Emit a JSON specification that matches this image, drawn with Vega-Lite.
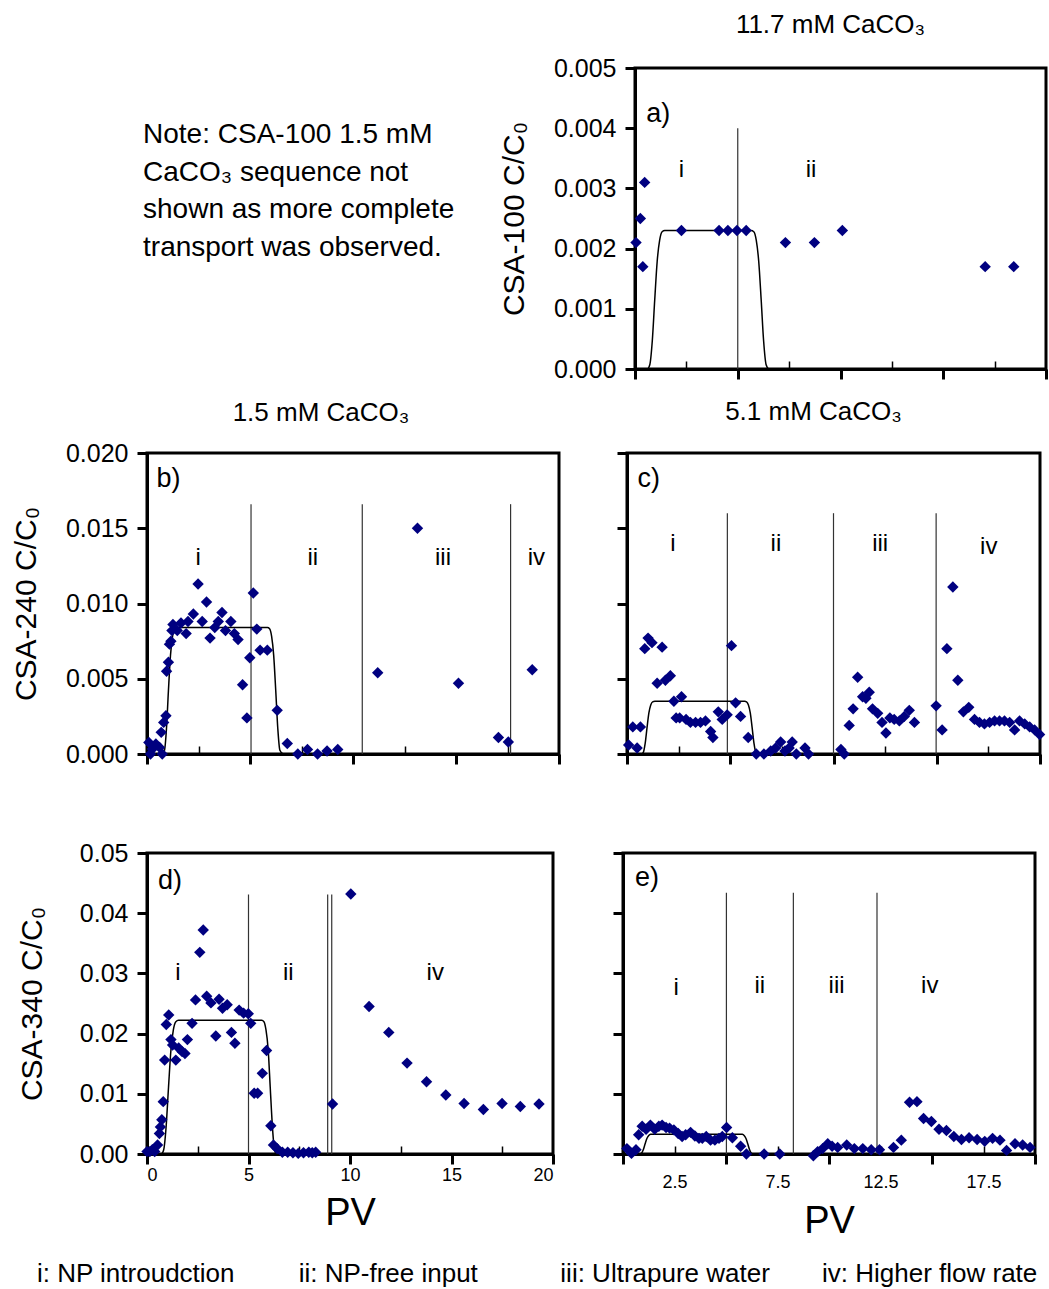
{
  "$schema": "https://vega.github.io/schema/vega-lite/v6.json",
  "padding": {"left": 9, "top": 10, "right": 0, "bottom": 0},
  "background": "white",
  "config": {
    "font": "Liberation Sans",
    "view": {"stroke": "black", "strokeWidth": 3},
    "axis": {"grid": false, "domainColor": "black", "domainWidth": 3, "tickColor": "black", "labelColor": "black", "titleColor": "black", "titleFontWeight": "normal", "labelFont": "Liberation Sans", "titleFont": "Liberation Sans"},
    "title": {"fontWeight": "normal", "color": "black", "font": "Liberation Sans"}
  },
  "datasets": {
    "pts": [
      {"panel":"a","pv":0.05,"c":0.0021},{"panel":"a","pv":0.26,"c":0.0025},{"panel":"a","pv":0.47,"c":0.0031},{"panel":"a","pv":0.38,"c":0.0017},{"panel":"a","pv":2.26,"c":0.0023},{"panel":"a","pv":4.09,"c":0.0023},{"panel":"a","pv":4.52,"c":0.0023},{"panel":"a","pv":4.96,"c":0.0023},{"panel":"a","pv":5.41,"c":0.0023},{"panel":"a","pv":7.32,"c":0.0021},{"panel":"a","pv":8.73,"c":0.0021},{"panel":"a","pv":10.09,"c":0.0023},{"panel":"a","pv":17.04,"c":0.0017},{"panel":"a","pv":18.43,"c":0.0017},
      {"panel":"b","pv":0.09,"c":0.00077},{"panel":"b","pv":0.17,"c":0.0},{"panel":"b","pv":0.26,"c":0.00033},{"panel":"b","pv":0.43,"c":0.00066},{"panel":"b","pv":0.61,"c":0.00044},{"panel":"b","pv":0.74,"c":0.0},{"panel":"b","pv":0.69,"c":0.00144},{"panel":"b","pv":0.81,"c":0.0021},{"panel":"b","pv":0.92,"c":0.00254},{"panel":"b","pv":0.95,"c":0.0055},{"panel":"b","pv":1.04,"c":0.0061},{"panel":"b","pv":1.09,"c":0.0073},{"panel":"b","pv":1.16,"c":0.0075},{"panel":"b","pv":1.21,"c":0.0082},{"panel":"b","pv":1.26,"c":0.0086},{"panel":"b","pv":1.47,"c":0.0082},{"panel":"b","pv":1.65,"c":0.0087},{"panel":"b","pv":1.9,"c":0.008},{"panel":"b","pv":1.99,"c":0.0088},{"panel":"b","pv":2.25,"c":0.0093},{"panel":"b","pv":2.48,"c":0.0113},{"panel":"b","pv":2.68,"c":0.0088},{"panel":"b","pv":2.89,"c":0.0101},{"panel":"b","pv":3.06,"c":0.0077},{"panel":"b","pv":3.29,"c":0.0084},{"panel":"b","pv":3.46,"c":0.0088},{"panel":"b","pv":3.64,"c":0.0094},{"panel":"b","pv":3.81,"c":0.0082},{"panel":"b","pv":4.07,"c":0.0088},{"panel":"b","pv":4.24,"c":0.008},{"panel":"b","pv":4.42,"c":0.0076},{"panel":"b","pv":4.64,"c":0.0046},{"panel":"b","pv":4.85,"c":0.0024},{"panel":"b","pv":4.99,"c":0.0064},{"panel":"b","pv":5.16,"c":0.0107},{"panel":"b","pv":5.33,"c":0.0083},{"panel":"b","pv":5.49,"c":0.0069},{"panel":"b","pv":5.84,"c":0.0069},{"panel":"b","pv":6.32,"c":0.0029},{"panel":"b","pv":6.81,"c":0.0007},{"panel":"b","pv":7.32,"c":0.0},{"panel":"b","pv":7.79,"c":0.0003},{"panel":"b","pv":8.28,"c":0.0},{"panel":"b","pv":8.74,"c":0.0002},{"panel":"b","pv":9.26,"c":0.0003},{"panel":"b","pv":11.2,"c":0.0054},{"panel":"b","pv":13.13,"c":0.015},{"panel":"b","pv":15.12,"c":0.0047},{"panel":"b","pv":17.06,"c":0.0011},{"panel":"b","pv":17.54,"c":0.0008},{"panel":"b","pv":18.7,"c":0.0056},
      {"panel":"c","pv":0.08,"c":0.0006},{"panel":"c","pv":0.28,"c":0.0018},{"panel":"c","pv":0.49,"c":0.0004},{"panel":"c","pv":0.65,"c":0.0018},{"panel":"c","pv":0.86,"c":0.007},{"panel":"c","pv":1.02,"c":0.0077},{"panel":"c","pv":1.21,"c":0.0074},{"panel":"c","pv":1.46,"c":0.0047},{"panel":"c","pv":1.7,"c":0.0071},{"panel":"c","pv":1.86,"c":0.0049},{"panel":"c","pv":2.1,"c":0.0052},{"panel":"c","pv":2.27,"c":0.0035},{"panel":"c","pv":2.64,"c":0.0038},{"panel":"c","pv":2.38,"c":0.0024},{"panel":"c","pv":2.55,"c":0.0024},{"panel":"c","pv":2.86,"c":0.0023},{"panel":"c","pv":3.07,"c":0.0021},{"panel":"c","pv":3.32,"c":0.0021},{"panel":"c","pv":3.56,"c":0.0021},{"panel":"c","pv":3.8,"c":0.0022},{"panel":"c","pv":4.05,"c":0.0015},{"panel":"c","pv":4.16,"c":0.0011},{"panel":"c","pv":4.42,"c":0.0028},{"panel":"c","pv":4.61,"c":0.0023},{"panel":"c","pv":4.85,"c":0.0026},{"panel":"c","pv":5.06,"c":0.0072},{"panel":"c","pv":5.26,"c":0.0034},{"panel":"c","pv":5.5,"c":0.0025},{"panel":"c","pv":5.87,"c":0.0011},{"panel":"c","pv":6.26,"c":0.0},{"panel":"c","pv":6.63,"c":0.0},{"panel":"c","pv":6.96,"c":0.0002},{"panel":"c","pv":7.2,"c":0.0004},{"panel":"c","pv":7.44,"c":0.0008},{"panel":"c","pv":7.65,"c":0.0002},{"panel":"c","pv":7.85,"c":0.0004},{"panel":"c","pv":8.0,"c":0.0008},{"panel":"c","pv":8.2,"c":0.0},{"panel":"c","pv":8.62,"c":0.0004},{"panel":"c","pv":8.79,"c":0.0},{"panel":"c","pv":10.36,"c":0.0003},{"panel":"c","pv":10.52,"c":0.0},{"panel":"c","pv":10.76,"c":0.0019},{"panel":"c","pv":10.95,"c":0.003},{"panel":"c","pv":11.17,"c":0.0051},{"panel":"c","pv":11.41,"c":0.0038},{"panel":"c","pv":11.57,"c":0.0037},{"panel":"c","pv":11.73,"c":0.0041},{"panel":"c","pv":11.89,"c":0.003},{"panel":"c","pv":12.14,"c":0.0027},{"panel":"c","pv":12.35,"c":0.0021},{"panel":"c","pv":12.54,"c":0.0014},{"panel":"c","pv":12.73,"c":0.0024},{"panel":"c","pv":12.94,"c":0.0023},{"panel":"c","pv":13.19,"c":0.0022},{"panel":"c","pv":13.43,"c":0.0025},{"panel":"c","pv":13.67,"c":0.0029},{"panel":"c","pv":13.92,"c":0.0021},{"panel":"c","pv":14.97,"c":0.0032},{"panel":"c","pv":15.26,"c":0.0016},{"panel":"c","pv":15.49,"c":0.007},{"panel":"c","pv":15.78,"c":0.0111},{"panel":"c","pv":16.02,"c":0.0049},{"panel":"c","pv":16.29,"c":0.0028},{"panel":"c","pv":16.55,"c":0.0031},{"panel":"c","pv":16.83,"c":0.0023},{"panel":"c","pv":17.07,"c":0.0021},{"panel":"c","pv":17.31,"c":0.002},{"panel":"c","pv":17.56,"c":0.0021},{"panel":"c","pv":17.8,"c":0.0022},{"panel":"c","pv":18.04,"c":0.0022},{"panel":"c","pv":18.28,"c":0.0022},{"panel":"c","pv":18.53,"c":0.0021},{"panel":"c","pv":18.77,"c":0.0016},{"panel":"c","pv":19.01,"c":0.0022},{"panel":"c","pv":19.26,"c":0.002},{"panel":"c","pv":19.5,"c":0.0018},{"panel":"c","pv":19.74,"c":0.0016},{"panel":"c","pv":19.98,"c":0.0013},
      {"panel":"d","pv":0.0,"c":0.0004},{"panel":"d","pv":0.14,"c":0.0004},{"panel":"d","pv":0.26,"c":0.0007},{"panel":"d","pv":0.38,"c":0.0004},{"panel":"d","pv":0.52,"c":0.0015},{"panel":"d","pv":0.61,"c":0.0034},{"panel":"d","pv":0.66,"c":0.0045},{"panel":"d","pv":0.73,"c":0.0057},{"panel":"d","pv":0.8,"c":0.0087},{"panel":"d","pv":0.87,"c":0.0156},{"panel":"d","pv":0.95,"c":0.0215},{"panel":"d","pv":1.07,"c":0.0231},{"panel":"d","pv":1.18,"c":0.019},{"panel":"d","pv":1.26,"c":0.0181},{"panel":"d","pv":1.42,"c":0.0156},{"panel":"d","pv":1.56,"c":0.0176},{"panel":"d","pv":1.73,"c":0.017},{"panel":"d","pv":1.87,"c":0.0167},{"panel":"d","pv":1.99,"c":0.019},{"panel":"d","pv":2.22,"c":0.0217},{"panel":"d","pv":2.39,"c":0.0256},{"panel":"d","pv":2.6,"c":0.0335},{"panel":"d","pv":2.77,"c":0.0372},{"panel":"d","pv":2.94,"c":0.0262},{"panel":"d","pv":3.15,"c":0.0251},{"panel":"d","pv":3.39,"c":0.0196},{"panel":"d","pv":3.55,"c":0.0257},{"panel":"d","pv":3.72,"c":0.0242},{"panel":"d","pv":3.95,"c":0.0248},{"panel":"d","pv":4.16,"c":0.0202},{"panel":"d","pv":4.33,"c":0.0184},{"panel":"d","pv":4.54,"c":0.0239},{"panel":"d","pv":4.76,"c":0.0234},{"panel":"d","pv":4.99,"c":0.0233},{"panel":"d","pv":5.11,"c":0.0217},{"panel":"d","pv":5.28,"c":0.0101},{"panel":"d","pv":5.45,"c":0.0101},{"panel":"d","pv":5.68,"c":0.0134},{"panel":"d","pv":5.89,"c":0.0172},{"panel":"d","pv":6.1,"c":0.0047},{"panel":"d","pv":6.23,"c":0.0015},{"panel":"d","pv":6.41,"c":0.0009},{"panel":"d","pv":6.67,"c":0.0003},{"panel":"d","pv":6.93,"c":0.0003},{"panel":"d","pv":7.19,"c":0.0002},{"panel":"d","pv":7.45,"c":0.0001},{"panel":"d","pv":7.71,"c":0.0002},{"panel":"d","pv":7.97,"c":0.0003},{"panel":"d","pv":8.14,"c":0.0002},{"panel":"d","pv":8.31,"c":0.0003},{"panel":"d","pv":9.14,"c":0.0083},{"panel":"d","pv":10.04,"c":0.0432},{"panel":"d","pv":10.94,"c":0.0245},{"panel":"d","pv":11.91,"c":0.0202},{"panel":"d","pv":12.81,"c":0.0151},{"panel":"d","pv":13.77,"c":0.012},{"panel":"d","pv":14.72,"c":0.0098},{"panel":"d","pv":15.62,"c":0.0084},{"panel":"d","pv":16.57,"c":0.0074},{"panel":"d","pv":17.49,"c":0.0084},{"panel":"d","pv":18.39,"c":0.0079},{"panel":"d","pv":19.31,"c":0.0083},
      {"panel":"e","pv":0.19,"c":0.0009},{"panel":"e","pv":0.41,"c":0.0001},{"panel":"e","pv":0.63,"c":0.0007},{"panel":"e","pv":0.76,"c":0.0032},{"panel":"e","pv":0.93,"c":0.0046},{"panel":"e","pv":1.12,"c":0.0041},{"panel":"e","pv":1.33,"c":0.0048},{"panel":"e","pv":1.54,"c":0.0041},{"panel":"e","pv":1.74,"c":0.0046},{"panel":"e","pv":1.9,"c":0.0048},{"panel":"e","pv":2.09,"c":0.0044},{"panel":"e","pv":2.26,"c":0.0043},{"panel":"e","pv":2.47,"c":0.004},{"panel":"e","pv":2.68,"c":0.0034},{"panel":"e","pv":2.87,"c":0.0029},{"panel":"e","pv":3.04,"c":0.0032},{"panel":"e","pv":3.28,"c":0.0036},{"panel":"e","pv":3.49,"c":0.003},{"panel":"e","pv":3.69,"c":0.0026},{"panel":"e","pv":3.85,"c":0.0026},{"panel":"e","pv":4.04,"c":0.0029},{"panel":"e","pv":4.25,"c":0.0023},{"panel":"e","pv":4.46,"c":0.0023},{"panel":"e","pv":4.66,"c":0.0026},{"panel":"e","pv":4.82,"c":0.0029},{"panel":"e","pv":5.03,"c":0.0044},{"panel":"e","pv":5.31,"c":0.0027},{"panel":"e","pv":5.71,"c":0.0013},{"panel":"e","pv":5.99,"c":0.0},{"panel":"e","pv":6.85,"c":0.0},{"panel":"e","pv":7.61,"c":0.0},{"panel":"e","pv":9.24,"c":-0.0003},{"panel":"e","pv":9.45,"c":0.0004},{"panel":"e","pv":9.69,"c":0.0009},{"panel":"e","pv":9.94,"c":0.0017},{"panel":"e","pv":10.15,"c":0.0013},{"panel":"e","pv":10.42,"c":0.0011},{"panel":"e","pv":10.86,"c":0.0015},{"panel":"e","pv":11.23,"c":0.0009},{"panel":"e","pv":11.64,"c":0.0009},{"panel":"e","pv":12.05,"c":0.0007},{"panel":"e","pv":12.45,"c":0.0007},{"panel":"e","pv":13.13,"c":0.0011},{"panel":"e","pv":13.51,"c":0.0023},{"panel":"e","pv":13.91,"c":0.0086},{"panel":"e","pv":14.27,"c":0.0087},{"panel":"e","pv":14.59,"c":0.0059},{"panel":"e","pv":14.97,"c":0.0054},{"panel":"e","pv":15.34,"c":0.0041},{"panel":"e","pv":15.7,"c":0.0039},{"panel":"e","pv":16.06,"c":0.0029},{"panel":"e","pv":16.43,"c":0.0024},{"panel":"e","pv":16.8,"c":0.0027},{"panel":"e","pv":17.19,"c":0.0024},{"panel":"e","pv":17.56,"c":0.0021},{"panel":"e","pv":17.94,"c":0.0026},{"panel":"e","pv":18.3,"c":0.0023},{"panel":"e","pv":18.62,"c":0.0006},{"panel":"e","pv":19.03,"c":0.0017},{"panel":"e","pv":19.4,"c":0.0015},{"panel":"e","pv":19.76,"c":0.0011}
    ],
    "model": [
      {"panel":"a","pv":0,"c":0},{"panel":"a","pv":0.6,"c":0},{"panel":"a","pv":0.72,"c":0.00007},{"panel":"a","pv":0.84,"c":0.00046},{"panel":"a","pv":0.96,"c":0.00115},{"panel":"a","pv":1.08,"c":0.00179},{"panel":"a","pv":1.2,"c":0.00214},{"panel":"a","pv":1.32,"c":0.00228},{"panel":"a","pv":1.45,"c":0.0023},{"panel":"a","pv":5.65,"c":0.0023},{"panel":"a","pv":5.78,"c":0.00228},{"panel":"a","pv":5.9,"c":0.00214},{"panel":"a","pv":6.02,"c":0.00179},{"panel":"a","pv":6.14,"c":0.00115},{"panel":"a","pv":6.26,"c":0.00046},{"panel":"a","pv":6.38,"c":0.00007},{"panel":"a","pv":6.5,"c":0},
      {"panel":"b","pv":0,"c":0},{"panel":"b","pv":0.75,"c":0},{"panel":"b","pv":0.85,"c":0.00025},{"panel":"b","pv":0.945,"c":0.00168},{"panel":"b","pv":1.04,"c":0.0042},{"panel":"b","pv":1.14,"c":0.00655},{"panel":"b","pv":1.24,"c":0.00781},{"panel":"b","pv":1.335,"c":0.00832},{"panel":"b","pv":1.45,"c":0.0084},{"panel":"b","pv":5.85,"c":0.0084},{"panel":"b","pv":5.95,"c":0.00832},{"panel":"b","pv":6.05,"c":0.00781},{"panel":"b","pv":6.15,"c":0.00655},{"panel":"b","pv":6.25,"c":0.0042},{"panel":"b","pv":6.35,"c":0.00168},{"panel":"b","pv":6.45,"c":0.00025},{"panel":"b","pv":6.6,"c":0},
      {"panel":"c","pv":0,"c":0},{"panel":"c","pv":0.7,"c":0},{"panel":"c","pv":0.79,"c":0.000105},{"panel":"c","pv":0.88,"c":0.0007},{"panel":"c","pv":0.97,"c":0.00175},{"panel":"c","pv":1.06,"c":0.00273},{"panel":"c","pv":1.15,"c":0.003255},{"panel":"c","pv":1.24,"c":0.003465},{"panel":"c","pv":1.35,"c":0.0035},{"panel":"c","pv":5.7,"c":0.0035},{"panel":"c","pv":5.79,"c":0.003465},{"panel":"c","pv":5.88,"c":0.003255},{"panel":"c","pv":5.97,"c":0.00273},{"panel":"c","pv":6.06,"c":0.00175},{"panel":"c","pv":6.15,"c":0.0007},{"panel":"c","pv":6.24,"c":0.000105},{"panel":"c","pv":6.33,"c":0},
      {"panel":"d","pv":0,"c":0},{"panel":"d","pv":0.7,"c":0},{"panel":"d","pv":0.82,"c":0.00067},{"panel":"d","pv":0.94,"c":0.00444},{"panel":"d","pv":1.06,"c":0.0111},{"panel":"d","pv":1.18,"c":0.01732},{"panel":"d","pv":1.3,"c":0.02065},{"panel":"d","pv":1.42,"c":0.02198},{"panel":"d","pv":1.55,"c":0.0222},{"panel":"d","pv":5.65,"c":0.0222},{"panel":"d","pv":5.76,"c":0.02198},{"panel":"d","pv":5.86,"c":0.02065},{"panel":"d","pv":5.97,"c":0.01732},{"panel":"d","pv":6.07,"c":0.0111},{"panel":"d","pv":6.18,"c":0.00444},{"panel":"d","pv":6.28,"c":0.00067},{"panel":"d","pv":6.38,"c":0},
      {"panel":"e","pv":0,"c":0},{"panel":"e","pv":0.8,"c":0},{"panel":"e","pv":0.89,"c":0.0001},{"panel":"e","pv":0.98,"c":0.00066},{"panel":"e","pv":1.07,"c":0.00165},{"panel":"e","pv":1.16,"c":0.00257},{"panel":"e","pv":1.25,"c":0.00307},{"panel":"e","pv":1.34,"c":0.00327},{"panel":"e","pv":1.45,"c":0.0033},{"panel":"e","pv":5.7,"c":0.0033},{"panel":"e","pv":5.79,"c":0.00327},{"panel":"e","pv":5.88,"c":0.00307},{"panel":"e","pv":5.97,"c":0.00257},{"panel":"e","pv":6.06,"c":0.00165},{"panel":"e","pv":6.15,"c":0.00066},{"panel":"e","pv":6.24,"c":0.0001},{"panel":"e","pv":6.33,"c":0}
    ],
    "seps": [
      {"panel":"a","pv":5.0,"c":0,"top":0.004},
      {"panel":"b","pv":5.05,"c":0,"top":0.0166},{"panel":"b","pv":10.45,"c":0,"top":0.0166},{"panel":"b","pv":17.65,"c":0,"top":0.0166},
      {"panel":"c","pv":4.86,"c":0,"top":0.016},{"panel":"c","pv":10.0,"c":0,"top":0.016},{"panel":"c","pv":14.97,"c":0,"top":0.016},
      {"panel":"d","pv":5.0,"c":0,"top":0.0431},{"panel":"d","pv":8.9,"c":0,"top":0.0431},{"panel":"d","pv":9.1,"c":0,"top":0.0431},
      {"panel":"e","pv":5.02,"c":0,"top":0.0434},{"panel":"e","pv":8.27,"c":0,"top":0.0434},{"panel":"e","pv":12.33,"c":0,"top":0.0434}
    ],
    "labels": [
      {"panel":"a","kind":"letter","pv":1.13,"c":0.00424,"text":"a)"},{"panel":"a","kind":"region","pv":2.26,"c":0.0033,"text":"i"},{"panel":"a","kind":"region","pv":8.57,"c":0.0033,"text":"ii"},
      {"panel":"b","kind":"letter","pv":1.04,"c":0.01825,"text":"b)"},{"panel":"b","kind":"region","pv":2.48,"c":0.01305,"text":"i"},{"panel":"b","kind":"region","pv":8.05,"c":0.01305,"text":"ii"},{"panel":"b","kind":"region","pv":14.37,"c":0.01305,"text":"iii"},{"panel":"b","kind":"region","pv":18.9,"c":0.01305,"text":"iv"},
      {"panel":"c","kind":"letter","pv":1.05,"c":0.01824,"text":"c)"},{"panel":"c","kind":"region","pv":2.22,"c":0.01396,"text":"i"},{"panel":"c","kind":"region","pv":7.21,"c":0.01396,"text":"ii"},{"panel":"c","kind":"region","pv":12.26,"c":0.01396,"text":"iii"},{"panel":"c","kind":"region","pv":17.52,"c":0.01374,"text":"iv"},
      {"panel":"d","kind":"letter","pv":1.13,"c":0.0453,"text":"d)"},{"panel":"d","kind":"region","pv":1.52,"c":0.03,"text":"i"},{"panel":"d","kind":"region","pv":6.96,"c":0.03,"text":"ii"},{"panel":"d","kind":"region","pv":14.2,"c":0.03,"text":"iv"},
      {"panel":"e","kind":"letter","pv":1.17,"c":0.0459,"text":"e)"},{"panel":"e","kind":"region","pv":2.58,"c":0.0276,"text":"i"},{"panel":"e","kind":"region","pv":6.64,"c":0.0279,"text":"ii"},{"panel":"e","kind":"region","pv":10.37,"c":0.0279,"text":"iii"},{"panel":"e","kind":"region","pv":14.89,"c":0.0279,"text":"iv"}
    ]
  },
  "columns": 1,
  "spacing": 13,
  "concat": [
    {
      "spacing": 20,
      "hconcat": [
        {
          "width": 330, "height": 301,
          "view": {"stroke": null},
          "data": {"values": [{"line":1,"text":"Note: CSA-100 1.5 mM"},{"line":2,"text":"CaCO₃ sequence not"},{"line":3,"text":"shown as more complete"},{"line":4,"text":"transport was observed."}]},
          "mark": {"type": "text", "align": "left", "baseline": "middle", "fontSize": 28, "font": "Liberation Sans", "color": "black"},
          "encoding": {
            "x": {"datum": -0.012, "type": "quantitative", "scale": {"domain": [0, 1]}, "axis": null},
            "y": {"field": "line", "type": "quantitative", "scale": {"domain": [-0.78, 7.22], "reverse": true}, "axis": null},
            "text": {"field": "text"}
          }
        },
        {
          "width": 411, "height": 301,
          "title": {"text": "11.7 mM CaCO₃", "fontSize": 26, "anchor": "middle", "frame": "group", "dx": -10, "offset": 18},
          "encoding": {
            "x": {"field": "pv", "type": "quantitative", "scale": {"domain": [0, 20], "nice": false}, "axis": {"values": [0,2.5,5,7.5,10,12.5,15,17.5,20], "labels": false, "title": null, "tickSize": {"condition": {"test": "datum.value % 5 !== 0", "value": -8}, "value": 10}, "tickWidth": {"condition": {"test": "datum.value % 5 !== 0", "value": 1.5}, "value": 3}}},
            "y": {"field": "c", "type": "quantitative", "scale": {"domain": [0, 0.005], "nice": false}, "axis": {"values": [0,0.001,0.002,0.003,0.004,0.005], "format": ".3f", "labelFontSize": 25, "labelPadding": 9, "tickSize": 10, "tickWidth": 3, "title": "CSA-100 C/C₀", "titleFontSize": 30, "titlePadding": 24}}
          },
          "layer": [
            {"data": {"name": "seps"}, "transform": [{"filter": "datum.panel === 'a'"}], "mark": {"type": "rule", "stroke": "#333333", "strokeWidth": 1.2}, "encoding": {"y2": {"field": "top"}}},
            {"data": {"name": "model"}, "transform": [{"filter": "datum.panel === 'a'"}], "mark": {"type": "line", "color": "black", "strokeWidth": 1.5, "interpolate": "monotone"}},
            {"data": {"name": "pts"}, "transform": [{"filter": "datum.panel === 'a'"}], "mark": {"type": "point", "shape": "diamond", "filled": true, "size": 130, "color": "#000080", "opacity": 1}},
            {"data": {"name": "labels"}, "transform": [{"filter": "datum.panel === 'a' && datum.kind === 'region'"}], "mark": {"type": "text", "fontSize": 24, "color": "black", "baseline": "middle"}, "encoding": {"text": {"field": "text"}}},
            {"data": {"name": "labels"}, "transform": [{"filter": "datum.panel === 'a' && datum.kind === 'letter'"}], "mark": {"type": "text", "fontSize": 27, "color": "black", "baseline": "middle"}, "encoding": {"text": {"field": "text"}}}
          ]
        }
      ]
    },
    {
      "columns": 1,
      "spacing": 70,
      "concat": [
        {
          "spacing": 52,
          "hconcat": [
            {
              "width": 412, "height": 301,
              "title": {"text": "1.5 mM CaCO₃", "fontSize": 26, "anchor": "middle", "frame": "group", "dx": -32, "offset": 15},
              "encoding": {
                "x": {"field": "pv", "type": "quantitative", "scale": {"domain": [0, 20], "nice": false}, "axis": {"values": [0,2.5,5,7.5,10,12.5,15,17.5,20], "labels": false, "title": null, "tickSize": {"condition": {"test": "datum.value % 5 !== 0", "value": -8}, "value": 10}, "tickWidth": {"condition": {"test": "datum.value % 5 !== 0", "value": 1.5}, "value": 3}}},
                "y": {"field": "c", "type": "quantitative", "scale": {"domain": [0, 0.02], "nice": false}, "axis": {"values": [0,0.005,0.01,0.015,0.02], "format": ".3f", "labelFontSize": 25, "labelPadding": 9, "tickSize": 10, "tickWidth": 3, "title": "CSA-240 C/C₀", "titleFontSize": 30, "titlePadding": 24}}
              },
              "layer": [
                {"data": {"name": "seps"}, "transform": [{"filter": "datum.panel === 'b'"}], "mark": {"type": "rule", "stroke": "#333333", "strokeWidth": 1.2}, "encoding": {"y2": {"field": "top"}}},
                {"data": {"name": "model"}, "transform": [{"filter": "datum.panel === 'b'"}], "mark": {"type": "line", "color": "black", "strokeWidth": 1.5, "interpolate": "monotone"}},
                {"data": {"name": "pts"}, "transform": [{"filter": "datum.panel === 'b'"}], "mark": {"type": "point", "shape": "diamond", "filled": true, "size": 130, "color": "#000080", "opacity": 1}},
                {"data": {"name": "labels"}, "transform": [{"filter": "datum.panel === 'b' && datum.kind === 'region'"}], "mark": {"type": "text", "fontSize": 24, "color": "black", "baseline": "middle"}, "encoding": {"text": {"field": "text"}}},
                {"data": {"name": "labels"}, "transform": [{"filter": "datum.panel === 'b' && datum.kind === 'letter'"}], "mark": {"type": "text", "fontSize": 27, "color": "black", "baseline": "middle"}, "encoding": {"text": {"field": "text"}}}
              ]
            },
            {
              "width": 413, "height": 301,
              "title": {"text": "5.1 mM CaCO₃", "fontSize": 26, "anchor": "middle", "frame": "group", "dx": -20, "offset": 27},
              "encoding": {
                "x": {"field": "pv", "type": "quantitative", "scale": {"domain": [0, 20], "nice": false}, "axis": {"values": [0,2.5,5,7.5,10,12.5,15,17.5,20], "labels": false, "title": null, "tickSize": {"condition": {"test": "datum.value % 5 !== 0", "value": -8}, "value": 10}, "tickWidth": {"condition": {"test": "datum.value % 5 !== 0", "value": 1.5}, "value": 3}}},
                "y": {"field": "c", "type": "quantitative", "scale": {"domain": [0, 0.02], "nice": false}, "axis": {"values": [0,0.005,0.01,0.015,0.02], "labels": false, "tickSize": 10, "tickWidth": 3, "title": null}}
              },
              "layer": [
                {"data": {"name": "seps"}, "transform": [{"filter": "datum.panel === 'c'"}], "mark": {"type": "rule", "stroke": "#333333", "strokeWidth": 1.2}, "encoding": {"y2": {"field": "top"}}},
                {"data": {"name": "model"}, "transform": [{"filter": "datum.panel === 'c'"}], "mark": {"type": "line", "color": "black", "strokeWidth": 1.5, "interpolate": "monotone"}},
                {"data": {"name": "pts"}, "transform": [{"filter": "datum.panel === 'c'"}], "mark": {"type": "point", "shape": "diamond", "filled": true, "size": 130, "color": "#000080", "opacity": 1}},
                {"data": {"name": "labels"}, "transform": [{"filter": "datum.panel === 'c' && datum.kind === 'region'"}], "mark": {"type": "text", "fontSize": 24, "color": "black", "baseline": "middle"}, "encoding": {"text": {"field": "text"}}},
                {"data": {"name": "labels"}, "transform": [{"filter": "datum.panel === 'c' && datum.kind === 'letter'"}], "mark": {"type": "text", "fontSize": 27, "color": "black", "baseline": "middle"}, "encoding": {"text": {"field": "text"}}}
              ]
            }
          ]
        },
        {
          "spacing": 54,
          "hconcat": [
            {
              "width": 406, "height": 301,
              "encoding": {
                "x": {"field": "pv", "type": "quantitative", "scale": {"domain": [0, 20], "nice": false}, "axis": {"values": [0,2.5,5,7.5,10,12.5,15,17.5,20], "labelExpr": "datum.value % 5 === 0 ? format(datum.value, 'd') : ''", "labelFontSize": 18, "labelPadding": 2, "title": "PV", "titleFontSize": 38, "titlePadding": 10, "tickSize": {"condition": {"test": "datum.value % 5 !== 0", "value": -8}, "value": 10}, "tickWidth": {"condition": {"test": "datum.value % 5 !== 0", "value": 1.5}, "value": 3}}},
                "y": {"field": "c", "type": "quantitative", "scale": {"domain": [0, 0.05], "nice": false}, "axis": {"values": [0,0.01,0.02,0.03,0.04,0.05], "format": ".2f", "labelFontSize": 25, "labelPadding": 9, "tickSize": 10, "tickWidth": 3, "title": "CSA-340 C/C₀", "titleFontSize": 30, "titlePadding": 32}}
              },
              "layer": [
                {"data": {"name": "seps"}, "transform": [{"filter": "datum.panel === 'd'"}], "mark": {"type": "rule", "stroke": "#333333", "strokeWidth": 1.2}, "encoding": {"y2": {"field": "top"}}},
                {"data": {"name": "model"}, "transform": [{"filter": "datum.panel === 'd'"}], "mark": {"type": "line", "color": "black", "strokeWidth": 1.5, "interpolate": "monotone"}},
                {"data": {"name": "pts"}, "transform": [{"filter": "datum.panel === 'd'"}], "mark": {"type": "point", "shape": "diamond", "filled": true, "size": 130, "color": "#000080", "opacity": 1}},
                {"data": {"name": "labels"}, "transform": [{"filter": "datum.panel === 'd' && datum.kind === 'region'"}], "mark": {"type": "text", "fontSize": 24, "color": "black", "baseline": "middle"}, "encoding": {"text": {"field": "text"}}},
                {"data": {"name": "labels"}, "transform": [{"filter": "datum.panel === 'd' && datum.kind === 'letter'"}], "mark": {"type": "text", "fontSize": 27, "color": "black", "baseline": "middle"}, "encoding": {"text": {"field": "text"}}}
              ]
            },
            {
              "width": 412, "height": 301,
              "encoding": {
                "x": {"field": "pv", "type": "quantitative", "scale": {"domain": [0, 20], "nice": false}, "axis": {"values": [0,2.5,5,7.5,10,12.5,15,17.5,20], "labelExpr": "datum.value % 5 !== 0 ? format(datum.value, '.1f') : ''", "labelFontSize": 18, "labelPadding": {"condition": {"test": "datum.value % 5 !== 0", "value": 27}, "value": 2}, "title": "PV", "titleFontSize": 38, "titlePadding": 11, "tickSize": {"condition": {"test": "datum.value % 5 !== 0", "value": -8}, "value": 10}, "tickWidth": {"condition": {"test": "datum.value % 5 !== 0", "value": 1.5}, "value": 3}}},
                "y": {"field": "c", "type": "quantitative", "scale": {"domain": [0, 0.05], "nice": false}, "axis": {"values": [0,0.01,0.02,0.03,0.04,0.05], "labels": false, "tickSize": 10, "tickWidth": 3, "title": null}}
              },
              "layer": [
                {"data": {"name": "seps"}, "transform": [{"filter": "datum.panel === 'e'"}], "mark": {"type": "rule", "stroke": "#333333", "strokeWidth": 1.2}, "encoding": {"y2": {"field": "top"}}},
                {"data": {"name": "model"}, "transform": [{"filter": "datum.panel === 'e'"}], "mark": {"type": "line", "color": "black", "strokeWidth": 1.5, "interpolate": "monotone"}},
                {"data": {"name": "pts"}, "transform": [{"filter": "datum.panel === 'e'"}], "mark": {"type": "point", "shape": "diamond", "filled": true, "size": 130, "color": "#000080", "opacity": 1}},
                {"data": {"name": "labels"}, "transform": [{"filter": "datum.panel === 'e' && datum.kind === 'region'"}], "mark": {"type": "text", "fontSize": 24, "color": "black", "baseline": "middle"}, "encoding": {"text": {"field": "text"}}},
                {"data": {"name": "labels"}, "transform": [{"filter": "datum.panel === 'e' && datum.kind === 'letter'"}], "mark": {"type": "text", "fontSize": 27, "color": "black", "baseline": "middle"}, "encoding": {"text": {"field": "text"}}}
              ]
            }
          ]
        }
      ]
    },
    {
      "width": 780, "height": 38,
      "view": {"stroke": null},
      "data": {"values": [{"k":"i","text":"i: NP introudction"},{"k":"ii","text":"ii: NP-free input"},{"k":"iii","text":"iii: Ultrapure water"},{"k":"iv","text":"iv: Higher flow rate"}]},
      "mark": {"type": "text", "align": "left", "baseline": "middle", "fontSize": 26, "font": "Liberation Sans", "color": "black"},
      "encoding": {
        "x": {"field": "k", "type": "ordinal", "sort": null, "scale": {"type": "point", "padding": 0, "range": [-110, 675]}, "axis": null},
        "text": {"field": "text"}
      }
    }
  ]
}
